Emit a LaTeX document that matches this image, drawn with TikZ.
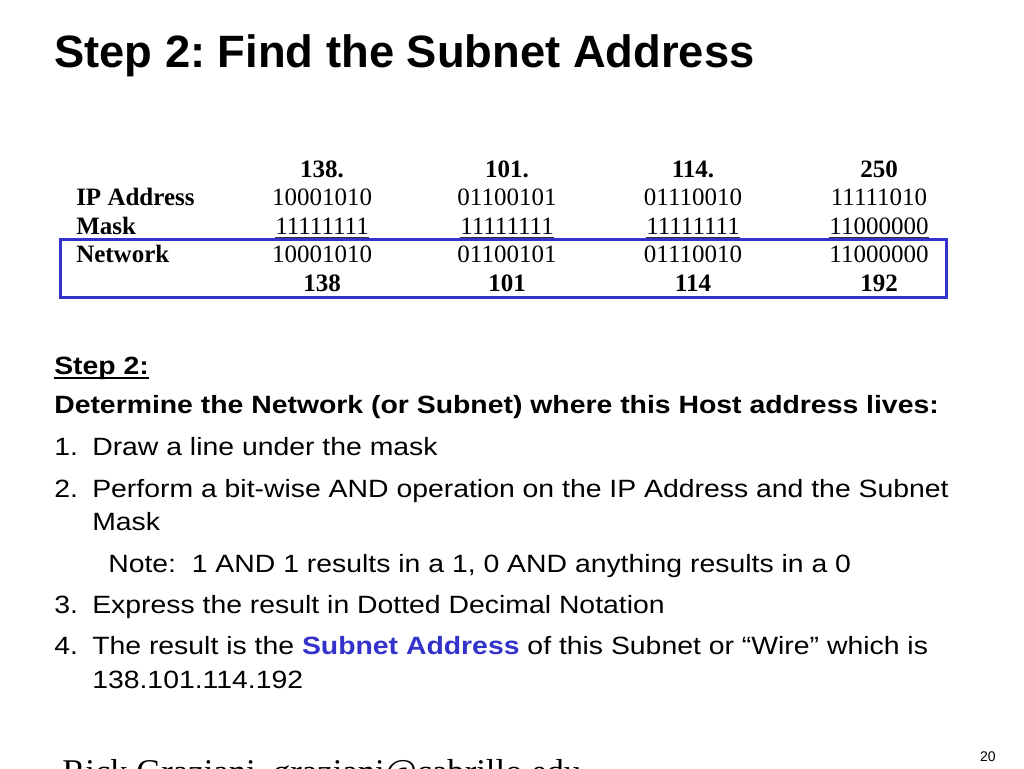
\documentclass[tikz,border=0pt]{standalone}
\usepackage{fontspec}
\setmainfont{Liberation Sans}
\newfontfamily\bodyfont[FakeStretch=1.135]{Liberation Sans}
\newfontfamily\tabfont{Liberation Serif}
\usetikzlibrary{positioning}
\definecolor{boxblue}{RGB}{51,51,204}
\frenchspacing

\begin{document}
\begin{tikzpicture}[x=0.75pt,y=-0.75pt,
    txt/.style={anchor=base west,inner sep=0pt,font=\bodyfont\fontsize{18.75}{22}\selectfont},
    txtb/.style={txt,font=\bodyfont\bfseries\fontsize{18.75}{22}\selectfont},
    cell/.style={anchor=base,inner sep=0pt,font=\tabfont\fontsize{18.75}{22}\selectfont},
    head/.style={cell,font=\tabfont\bfseries\fontsize{18.75}{22}\selectfont},
    lbl/.style={anchor=base west,inner sep=0pt,font=\tabfont\bfseries\fontsize{18.75}{22}\selectfont}]
\useasboundingbox (0,0) rectangle (1024,768);
\clip (0,0) rectangle (1024,768);

\node[anchor=base west,inner sep=0pt,font=\bfseries\fontsize{34}{40}\selectfont] (T) at (54,67) {Step 2: Find the Subnet Address};

% table, one column per octet
\node[lbl] (IP)  at (76,205.5) {IP Address};
\node[lbl] (MK)  at (76,234)   {Mask};
\node[lbl] (NW)  at (76,262.5) {Network};
\foreach \x/\a/\b/\c/\d/\e [count=\i] in {322/138./10001010/11111111/10001010/138,
    507/101./01100101/11111111/01100101/101,
    693/114./01110010/11111111/01110010/114,
    879/250/11111010/11000000/11000000/192} {
  \node[head] (H\i) at (\x,177)   {\a};
  \node[cell] (A\i) at (\x,205.5) {\b};
  \node[cell] (M\i) at (\x,234)   {\c};
  \node[cell] (N\i) at (\x,262.5) {\d};
  \node[head] (R\i) at (\x,291)   {\e};
  \draw[line width=0.75pt,black!80] ([yshift=-2.5pt]M\i.base west) -- ([yshift=-2.5pt]M\i.base east);
}
\draw[boxblue,line width=2.25pt] (60,239.5) rectangle (946.5,297.5);

% steps
\node[txtb] (S) at (54,374) {Step 2:};
\draw[line width=1.4pt] ([yshift=-3pt]S.base west) -- ([yshift=-3pt]S.base east);
\node[txtb] (D) at (54,413) {Determine the Network (or Subnet) where this Host address lives:};
\node[txt] (n1) at (54,455) {1.};  \node[txt] (s1) at (92,455) {Draw a line under the mask};
\node[txt] (n2) at (54,497) {2.};  \node[txt] (s2) at (92,497) {Perform a bit-wise AND operation on the IP Address and the Subnet};
\node[txt] (s2b) at (92,530) {Mask};
\node[txt] (NT) at (108,572) {Note:\ \ 1 AND 1 results in a 1, 0 AND anything results in a 0};
\node[txt] (n3) at (54,613) {3.};  \node[txt] (s3) at (92,613) {Express the result in Dotted Decimal Notation};
\node[txt] (n4) at (54,654) {4.};  \node[txt] (s4) at (92,654) {The result is the \textbf{\color{boxblue}Subnet Address} of this Subnet or “Wire” which is};
\node[txt] (s4b) at (92,688) {138.101.114.192};

\node[anchor=base west,inner sep=0pt,font=\tabfont\fontsize{26}{30}\selectfont] (F) at (62,783) {Rick Graziani\ \ graziani@cabrillo.edu};
\node[anchor=base east,inner sep=0pt,font=\fontsize{10.5}{12}\selectfont] (P) at (996,761) {20};
\end{tikzpicture}
\end{document}
